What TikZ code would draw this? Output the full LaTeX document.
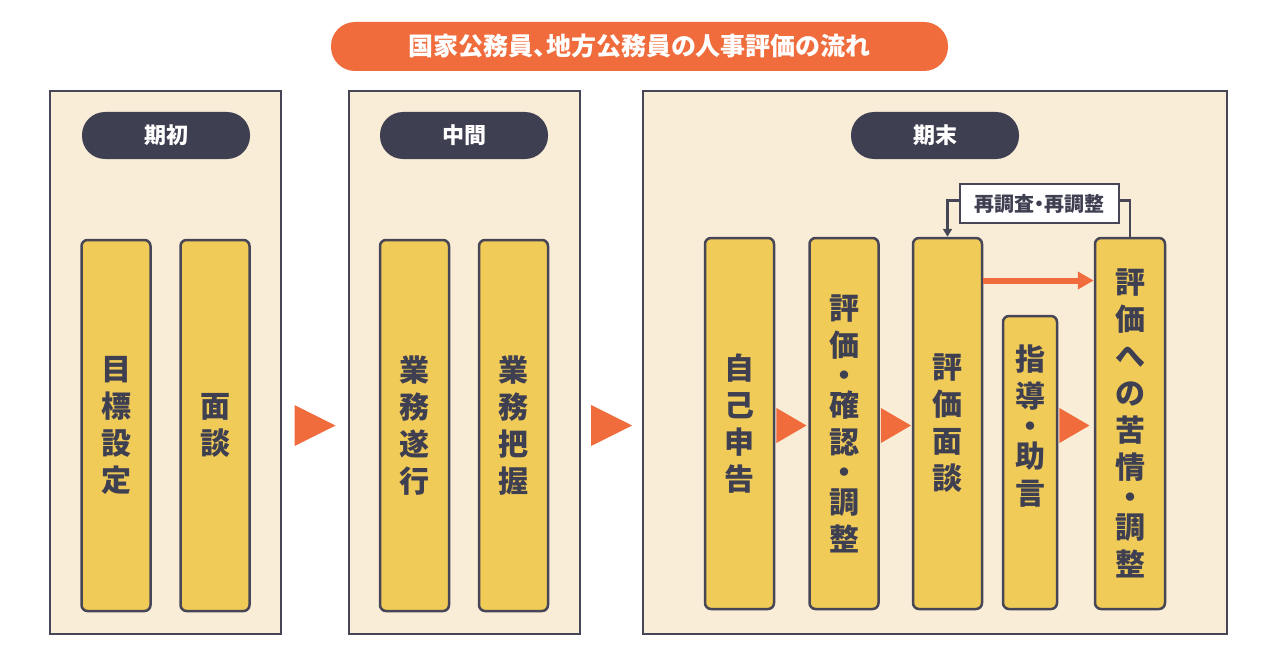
\documentclass[tikz,border=0pt]{standalone}
\usepackage{fontspec}
\setmainfont{Noto Sans CJK JP}
\newfontfamily\jpprop{Noto Sans CJK JP}[RawFeature=+palt]
\usetikzlibrary{arrows.meta,calc}

\definecolor{hyoOrange}{HTML}{F06C3C}
\definecolor{hyoNavy}{HTML}{3F3F52}
\definecolor{hyoLine}{HTML}{464656}
\definecolor{hyoYellow}{HTML}{F0CB58}
\definecolor{hyoPaper}{HTML}{FAEDD8}

\begin{document}
\begin{tikzpicture}[x=1pt,y=-1pt,
    frame/.style={draw=hyoLine, fill=hyoPaper, line width=2.5pt, minimum height=543pt},
    phase/.style={fill=hyoNavy, text=white, rounded corners=23pt, minimum width=168pt, minimum height=47pt,
      font=\fontsize{22}{22}\selectfont\bfseries},
    stepbox/.style={draw=hyoLine, fill=hyoYellow, line width=2.5pt, rounded corners=6pt,
      minimum width=69pt, minimum height=371pt},
    steptext/.style={text=hyoNavy, align=center, font=\fontsize{30}{37}\selectfont\bfseries},
    tri/.style={fill=hyoOrange}]

  % Fix the page size
  \fill[white] (0,0) rectangle (1274,658);
  \useasboundingbox (0,0) rectangle (1274,658);

  % Title
  \node[fill=hyoOrange, text=white, rounded corners=24pt, minimum width=617pt, minimum height=49pt,
    font=\jpprop\fontsize{25}{25}\selectfont\bfseries] (title) at (639.5,46.5) {国家公務員、地方公務員の人事評価の流れ};

  % Three stages
  \node[frame, minimum width=231pt] (early) at (165.5,362.5) {};
  \node[frame, minimum width=231pt] (middle) at (464.5,362.5) {};
  \node[frame, minimum width=584pt] (late) at (935,362.5) {};

  \node[phase] (earlyhead) at (166,135.5) {期初};
  \node[phase] (middlehead) at (464,135.5) {中間};
  \node[phase] (latehead) at (935,135.5) {期末};

  \coordinate (row) at (0,425.5);

  % Steps of each stage
  \node[stepbox, steptext] (goal) at (116,425.5) {目\\標\\設\\定};
  \node[stepbox, steptext] (talk) at (215,425.5) {面\\談};
  \node[stepbox, steptext] (work) at (414.5,425.5) {業\\務\\遂\\行};
  \node[stepbox, steptext] (grasp) at (513.5,425.5) {業\\務\\把\\握};

  \node[stepbox, steptext] (self) at (739.5,423.5) {自\\己\\申\\告};
  \node[stepbox, steptext] (check) at (844,423.5) {評\\価\\[-7pt]・\\[-7pt]確\\認\\[-7pt]・\\[-7pt]調\\整};
  \node[stepbox, steptext] (review) at (947.5,423.5) {評\\価\\面\\談};
  \node[stepbox, minimum width=54pt, minimum height=293pt] (advice) at (1030,462.5) {};
  \node[steptext] (advicetext) at (1030,426) {指\\導\\[-7pt]・\\[-7pt]助\\言};
  \node[stepbox, steptext, minimum width=70pt] (appeal) at (1130,423.5) {評\\価\\へ\\の\\苦\\情\\[-7pt]・\\[-7pt]調\\整};

  % Arrows between stages
  \foreach \a/\b in {early/middle,middle/late} {
    \coordinate (gap) at ($(\a.east |- row)!0.5!(\b.west |- row)$);
    \fill[tri] (gap) ++(-20.5pt,20.5pt) -- ++(41pt,-20.5pt) -- ++(-41pt,-20.5pt) -- cycle;
  }

  % Arrows between steps
  \foreach \a in {self,check,advice}
    \fill[tri] (\a.east |- row) ++(1.2pt,17.5pt) -- ++(30pt,-17.5pt) -- ++(-30pt,-17.5pt) -- cycle;

  % Re-investigation loop
  \node[draw=hyoLine, fill=white, line width=2pt, minimum width=159pt, minimum height=39pt,
    text=hyoNavy, font=\jpprop\fontsize{20}{20}\selectfont\bfseries] (redo) at (1039.5,203.5) {再調査・再調整};
  \draw[hyoLine, line width=2.5pt, -{Triangle[length=8pt,width=9pt]}] ([yshift=3pt]redo.west) -| (review.north);
  \draw[hyoLine, line width=2.5pt] ([yshift=3pt]redo.east) -| (appeal.north);

  \draw[hyoOrange, line width=6pt, -{Triangle[length=16pt,width=17pt]}]
    ([yshift=143pt]review.east) -- ([yshift=143pt]appeal.west);
\end{tikzpicture}
\end{document}
